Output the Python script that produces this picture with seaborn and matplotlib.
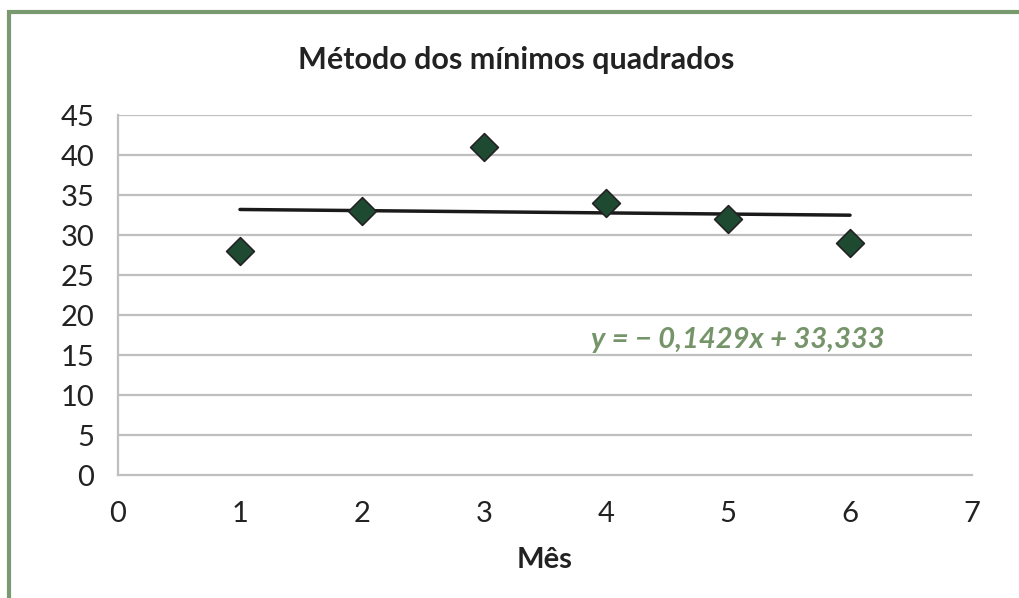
import numpy as np
import pandas as pd
import matplotlib
matplotlib.use("Agg")
import matplotlib.pyplot as plt
import seaborn as sns
from matplotlib.patches import Rectangle

# dados
meses = [1, 2, 3, 4, 5, 6]
valores = [28, 33, 41, 34, 32, 29]
yticks = [0, 5, 10, 15, 20, 25, 30, 35, 40, 45]
xticks = [0, 1, 2, 3, 4, 5, 6, 7]
titulo = "Método dos mínimos quadrados"
equacao = "y = \u2212 0,1429x + 33,333"

df = pd.DataFrame({"Mes": meses, "Valor": valores})

# reta dos minimos quadrados
coef = np.polyfit(df["Mes"], df["Valor"], 1)
df["Reta"] = coef[0] * df["Mes"] + coef[1]

sns.set_theme(style="white")
plt.rcParams["font.family"] = ["Lato", "DejaVu Sans"]

fig = plt.figure(figsize=(10.19, 5.98), dpi=100)
ax = fig.add_axes([118 / 1019, 1 - 475 / 598, (972 - 118) / 1019, (475 - 115) / 598])

grid_cor = "#bfbfbf"
for v in yticks[1:]:
    ax.axhline(v, color=grid_cor, lw=1.6, zorder=0)

sns.lineplot(data=df, x="Mes", y="Reta", color="#1a1a1a", lw=2.5, ax=ax, zorder=2)
sns.scatterplot(data=df, x="Mes", y="Valor", marker="D", s=200, color="#1e4a32",
                edgecolor="#222222", linewidth=1.2, ax=ax, zorder=3)

ax.set_xlim(0, 7)
ax.set_ylim(0, 45)
ax.set_xticks(xticks)
ax.set_yticks(yticks)
ax.tick_params(axis="both", length=0, labelsize=21, colors="#222222")
ax.tick_params(axis="y", pad=17)
ax.tick_params(axis="x", pad=19)
for s in ["top", "right"]:
    ax.spines[s].set_visible(False)
for s in ["left", "bottom"]:
    ax.spines[s].set_color(grid_cor)
    ax.spines[s].set_linewidth(1.6)

ax.set_ylabel("")
ax.set_xlabel("Mês", fontsize=21, fontweight="bold", color="#222222", labelpad=14)

ax.text(6.28, 16.9, equacao, ha="right", va="center", fontsize=21,
        fontweight="bold", style="italic", color="#76946a")

fig.text(516 / 1019, 1 - 60 / 598, titulo, ha="center", va="center",
         fontsize=22, fontweight="bold", color="#222222")

# moldura verde
fig.patches.append(Rectangle((9 / 1019, -0.1), 1.2, 1 - 12 / 598 + 0.1,
                             transform=fig.transFigure, fill=False,
                             edgecolor="#789a6e", lw=3))

fig.savefig("out.png", dpi=100)
